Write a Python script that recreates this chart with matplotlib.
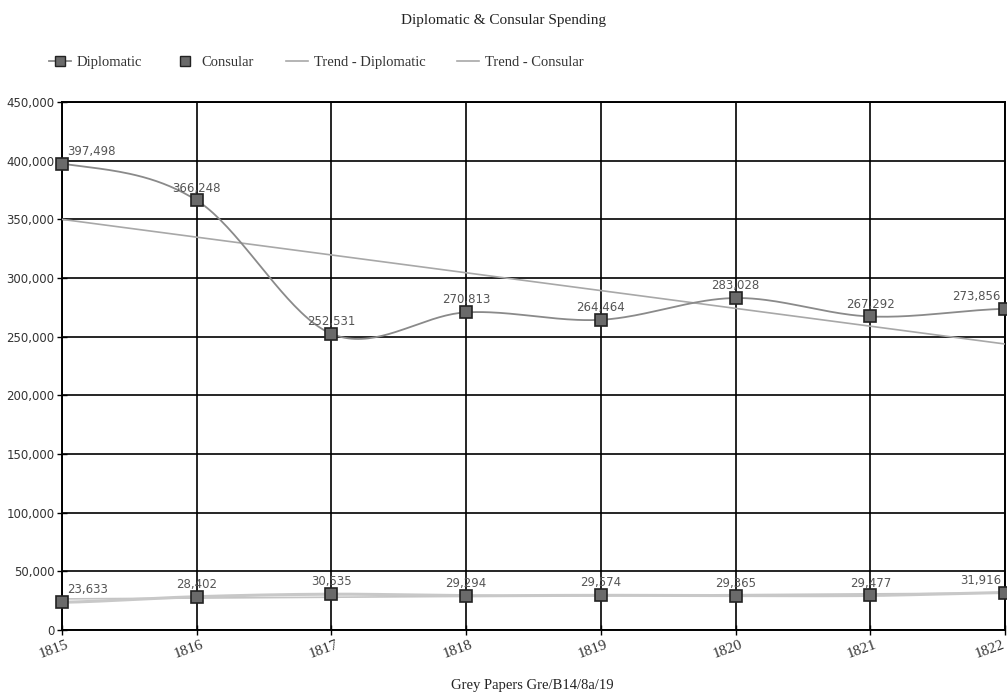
import numpy as np
import matplotlib.pyplot as plt
from matplotlib.ticker import FuncFormatter, MultipleLocator
from matplotlib.transforms import ScaledTranslation

years = [1815, 1816, 1817, 1818, 1819, 1820, 1821, 1822]
diplomatic = [397498, 366248, 252531, 270813, 264464, 283028, 267292, 273856]
consular = [23633, 28402, 30535, 29294, 29574, 29365, 29477, 31916]

SERIF = 'Liberation Serif'
SANS = 'DejaVu Sans'


def smooth(x, y, n=40):
    # Catmull-Rom style Hermite curve through the points
    x = np.asarray(x, float)
    y = np.asarray(y, float)
    m = np.empty_like(y)
    m[1:-1] = (y[2:] - y[:-2]) / 2
    m[0] = (y[1] - y[0]) * 0.5
    m[-1] = (y[-1] - y[-2]) * 0.5
    xs, ys = [], []
    for i in range(len(x) - 1):
        t = np.linspace(0, 1, n, endpoint=(i == len(x) - 2))
        h00 = 2 * t**3 - 3 * t**2 + 1
        h10 = t**3 - 2 * t**2 + t
        h01 = -2 * t**3 + 3 * t**2
        h11 = t**3 - t**2
        xs.append(x[i] + t * (x[i + 1] - x[i]))
        ys.append(h00 * y[i] + h10 * m[i] + h01 * y[i + 1] + h11 * m[i + 1])
    return np.concatenate(xs), np.concatenate(ys)


fig = plt.figure(figsize=(10.07, 6.95), dpi=100)
ax = fig.add_axes([0.0616, 0.0935, 0.9364, 0.7595])

# trend lines (least squares)
for vals, c in [(diplomatic, '#a8a8a8'), (consular, '#c4c4c4')]:
    k, b = np.polyfit(years, vals, 1)
    ax.plot(years, np.polyval([k, b], years), color=c, lw=1.2, zorder=3)

sx, sy = smooth(years, diplomatic)
ax.plot(sx, sy, color='#8a8a8a', lw=1.3, zorder=4)
ax.plot(years, diplomatic, ls='none', marker='s', ms=8, mfc='#6a6a6a',
        mec='#222222', mew=1.2, zorder=5, clip_on=False)

cx, cy = smooth(years, consular)
ax.plot(cx, cy, color='#c8c8c8', lw=2.2, zorder=4)
ax.plot(years, consular, ls='none', marker='s', ms=8, mfc='#6a6a6a',
        mec='#222222', mew=1.2, zorder=5, clip_on=False)

# value labels
for vals in (diplomatic, consular):
    for i, (x, v) in enumerate(zip(years, vals)):
        ha = 'center'
        dx = 0
        if i == 0:
            ha, dx = 'left', 0.04
        elif i == len(years) - 1:
            ha, dx = 'right', -0.03
        ax.text(x + dx, v + 5000, f'{v:,}', ha=ha, va='bottom',
                fontsize=8.5, color='#555555', family=SANS, zorder=6)

ax.set_xlim(1815, 1822)
ax.set_ylim(0, 450000)
ax.yaxis.set_major_locator(MultipleLocator(50000))
ax.yaxis.set_major_formatter(FuncFormatter(lambda v, p: f'{int(v):,}'))
ax.set_xticks(years)
ax.set_xticklabels([])
for lab in ax.get_yticklabels():
    lab.set_family(SANS)
    lab.set_fontsize(8.5)
    lab.set_color('#333333')

# slanted year labels under the ticks
xtrans = ax.get_xaxis_transform()
for i, yr in enumerate(years):
    px = -3 if i == len(years) - 1 else 4
    off = ScaledTranslation(px / 100, -8 / 100, fig.dpi_scale_trans)
    ax.text(yr, 0, str(yr), transform=xtrans + off, rotation=20,
            ha='right', va='top', rotation_mode='anchor', family=SERIF,
            fontsize=11, color='#333333', clip_on=False)

ax.grid(True, color='black', lw=1.2, zorder=1)
ax.set_axisbelow(True)
for s in ax.spines.values():
    s.set_color('black')
    s.set_linewidth(1.4)
ax.tick_params(direction='inout', length=7, width=1, color='black', pad=2)

fig.text(0.529, 0.013, 'Grey Papers Gre/B14/8a/19', ha='center', va='center',
         family=SERIF, fontsize=10.5, color='#222222')
fig.text(0.5, 0.971, 'Diplomatic & Consular Spending', ha='center', va='center',
         family=SERIF, fontsize=11, color='#222222')

handles = [
    plt.Line2D([], [], color='#8a8a8a', lw=1.3, marker='s', ms=7,
               mfc='#6a6a6a', mec='#222222'),
    plt.Line2D([], [], ls='none', marker='s', ms=7, mfc='#6a6a6a', mec='#222222'),
    plt.Line2D([], [], color='#a8a8a8', lw=1.2),
    plt.Line2D([], [], color='#a8a8a8', lw=1.2),
]
labels = ['Diplomatic', 'Consular', 'Trend - Diplomatic', 'Trend - Consular']
fig.legend(handles, labels, loc='center', bbox_to_anchor=(0.314, 0.91), ncol=4,
           frameon=False, prop={'family': SERIF, 'size': 10.5},
           handlelength=1.5, handletextpad=0.4, columnspacing=2.2,
           labelcolor='#333333')

fig.savefig('out.png', dpi=100)
